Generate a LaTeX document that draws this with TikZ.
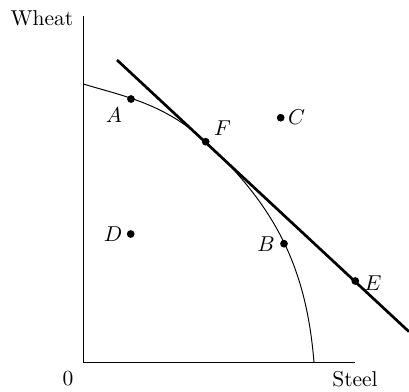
\documentclass[tikz,border=0pt]{standalone}
\begin{document}
\begin{tikzpicture}[x=0.4651pt,y=-0.4651pt,
  dot/.style={circle,fill=black,inner sep=0pt,minimum size=3.6pt},
  lbl/.style={inner sep=0pt},
  axis/.style={line width=0.5pt},
  ppf/.style={line width=0.45pt},
  budget/.style={line width=1.25pt}]
\useasboundingbox (0,0) rectangle (409,392);
% axes
\coordinate (O) at (83.3,362.5);
\coordinate (Ytop) at (83.3,15.5);
\coordinate (Xend) at (355,362.5);
\draw[axis] (Ytop) -- (O) -- (Xend);
\node[lbl] (wheat) at (42,18) {Wheat};
\node[lbl] (zero) at (68,379) {0};
\node[lbl] (steel) at (355,379) {Steel};
% points
\node[dot] (A) at (131,99) {};
\node[dot] (F) at (205.7,141.7) {};
\node[dot] (C) at (280.7,117.7) {};
\node[dot] (D) at (130.7,234) {};
\node[dot] (B) at (284,243.7) {};
\node[dot] (E) at (355.3,281) {};
% curve
\coordinate (c0) at (83.3,84);
\coordinate (c3) at (314,362.5);
\draw[ppf] (c0) .. controls (124,96.3) and (164.7,103.6) .. (F.center)
  .. controls (275.7,206.8) and (306.4,267.7) .. (c3);
% line
\coordinate (l0) at (117,60);
\coordinate (l1) at (409,331.7);
\draw[budget] (l0) -- (l1);
% labels
\node[lbl] (lA) at (114,115) {$A$};
\node[lbl] (lF) at (222.5,128) {$F$};
\node[lbl] (lC) at (296.5,117.5) {$C$};
\node[lbl] (lD) at (113,234) {$D$};
\node[lbl] (lB) at (266,244) {$B$};
\node[lbl] (lE) at (373,283) {$E$};
\end{tikzpicture}
\end{document}
